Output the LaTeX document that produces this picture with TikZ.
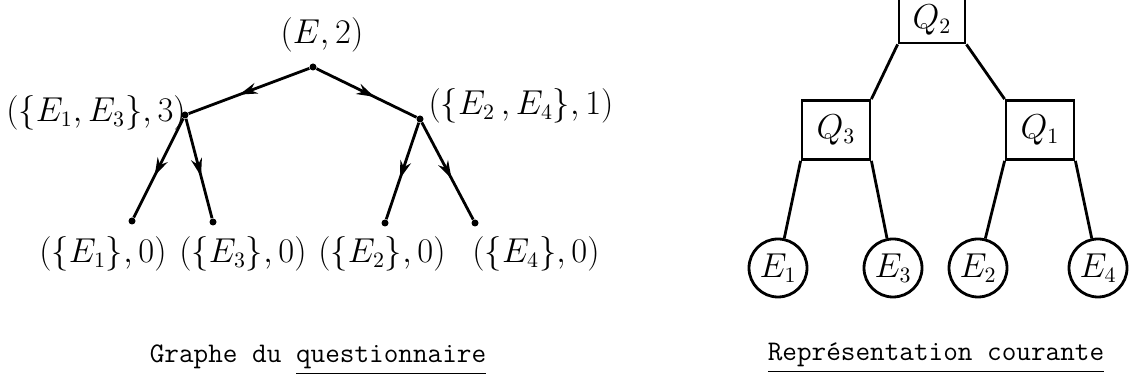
\documentclass[tikz,border=0pt]{standalone}
\usepackage{amsmath}
\usetikzlibrary{arrows.meta,decorations.markings}

\begin{document}
\begin{tikzpicture}[x=0.5pt, y=-0.5pt,
  dot/.style={circle, fill, inner sep=0pt, minimum size=3.5pt},
  lbl/.style={font=\fontsize{16}{19}\selectfont, inner sep=0pt},
  flow/.style={line width=1.4pt, postaction={decorate},
    decoration={markings, mark=at position 0.58 with {\arrow{Stealth[length=9pt,width=5.5pt]}}}},
  link/.style={line width=1.4pt},
  qbox/.style={draw, line width=1.4pt, minimum width=33pt, minimum height=29.5pt,
    inner sep=0pt, font=\fontsize{16}{19}\selectfont},
  leaf/.style={draw, circle, line width=1.4pt, minimum size=29pt, inner sep=0pt,
    font=\fontsize{16}{19}\selectfont},
  caption/.style={font=\ttfamily\fontsize{14.2}{17}\selectfont, inner sep=0pt}]
  % page = 1129 x 378 (one unit = one pixel of the scan)
  \clip (0,0) rectangle (1129,378);

  % 1. Graphe du questionnaire: points
  \node[dot] (r)  at (313,67)  {};
  \node[dot] (a)  at (185,115) {};
  \node[dot] (b)  at (420,119) {};
  \node[dot] (a1) at (132,221) {};
  \node[dot] (a3) at (213,222) {};
  \node[dot] (b2) at (385,223) {};
  \node[dot] (b4) at (475,223) {};

  % labels of the points
  \node[lbl] (lr)  at (322,35)  {$(E,2)$};
  \node[lbl] (la)  at (96,113)  {$(\{E_1,E_3\},3)$};
  \node[lbl] (lb)  at (521,106) {$(\{E_2\,,E_4\},1)$};
  \node[lbl] (la1) at (103,254) {$(\{E_1\},0)$};
  \node[lbl] (la3) at (243,254) {$(\{E_3\},0)$};
  \node[lbl] (lb2) at (382,254) {$(\{E_2\},0)$};
  \node[lbl] (lb4) at (536,254) {$(\{E_4\},0)$};

  % arcs
  \draw[flow] (r) -- (a);
  \draw[flow] (r) -- (b);
  \draw[flow] (a) -- (a1);
  \draw[flow] (a) -- (a3);
  \draw[flow] (b) -- (b2);
  \draw[flow] (b) -- (b4);

  % 2. Representation courante (top of Q2 runs off the page)
  \node[qbox, minimum height=23pt] (q2) at (932,20) {$Q_2$};
  \node[qbox, minimum width=34pt] (q3) at (836,130) {$Q_3$};
  \node[qbox, minimum width=34pt] (q1) at (1040,130) {$Q_1$};

  \node[leaf] (e1) at (778,268)  {$E_1$};
  \node[leaf] (e3) at (893,268)  {$E_3$};
  \node[leaf] (e2) at (978,268)  {$E_2$};
  \node[leaf] (e4) at (1098,268) {$E_4$};

  \draw[link] (q2.south west) -- (q3.north east);
  \draw[link] (q2.south east) -- (q1.north west);
  \draw[link] (q3.south west) -- (e1);
  \draw[link] (q3.south east) -- (e3);
  \draw[link] (q1.south west) -- (e2);
  \draw[link] (q1.south east) -- (e4);

  % 3. captions
  \node[caption] (cg) at (318,360) {Graphe du \underline{questionnaire}};
  \node[caption] (cr) at (936,358) {\underline{Représentation courante}};
\end{tikzpicture}
\end{document}
